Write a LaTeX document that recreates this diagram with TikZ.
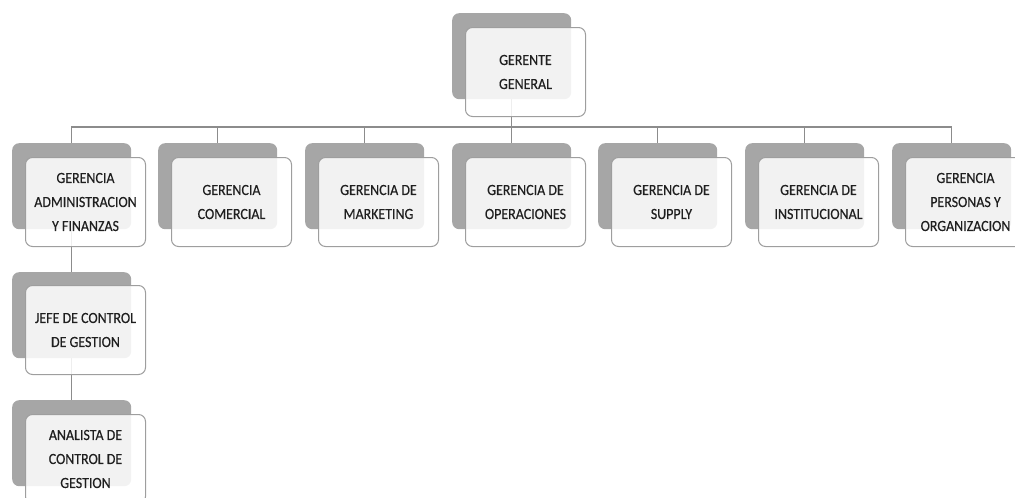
\documentclass[tikz,border=0pt]{standalone}
\usepackage{fontspec}
\setmainfont{Carlito}
\newfontfamily\boxfont[FakeStretch=0.9,FakeBold=0.35]{Carlito}
\usetikzlibrary{backgrounds}
\definecolor{backgray}{HTML}{A6A6A6}
\definecolor{bordergray}{HTML}{9E9E9E}
\definecolor{linegray}{HTML}{8C8C8C}
\tikzset{
  backbox/.style={rectangle, rounded corners=7pt, fill=backgray, minimum width=119pt, minimum height=86pt, anchor=north west, inner sep=0pt},
  frontbox/.style={rectangle, rounded corners=7pt, draw=bordergray, line width=1pt, fill=white, fill opacity=0.86, text opacity=1, minimum width=120pt, minimum height=89pt, anchor=north west, inner sep=0pt, align=center, font=\boxfont\fontsize{15.5}{24}\selectfont, text=black!88},
  conn/.style={draw=linegray, line width=1.3pt}
}
\begin{document}
\begin{tikzpicture}[x=1pt,y=-1pt]
\useasboundingbox (0,0) rectangle (1015,498);
% top
\node[backbox] (gb) at (452,13) {};
\node[frontbox] (gf) at (465,27) {GERENTE\\GENERAL};
% level 2
\node[backbox] (b1) at (12,143) {};
\node[frontbox] (f1) at (25,157) {GERENCIA\\ADMINISTRACION\\Y FINANZAS};
\node[backbox] (b2) at (158,143) {};
\node[frontbox] (f2) at (171,157) {GERENCIA\\COMERCIAL};
\node[backbox] (b3) at (305,143) {};
\node[frontbox] (f3) at (318,157) {GERENCIA DE\\MARKETING};
\node[backbox] (b4) at (452,143) {};
\node[frontbox] (f4) at (465,157) {GERENCIA DE\\OPERACIONES};
\node[backbox] (b5) at (598,143) {};
\node[frontbox] (f5) at (611,157) {GERENCIA DE\\SUPPLY};
\node[backbox] (b6) at (745,143) {};
\node[frontbox] (f6) at (758,157) {GERENCIA DE\\INSTITUCIONAL};
\node[backbox] (b7) at (892,143) {};
\node[frontbox] (f7) at (905,157) {GERENCIA\\PERSONAS Y\\ORGANIZACION};
% level 3
\node[backbox] (j) at (12,272) {};
\node[frontbox] (jf) at (25,285) {JEFE DE CONTROL\\DE GESTION};
\node[backbox] (a) at (12,400) {};
\node[frontbox] (af) at (25,414) {ANALISTA DE\\CONTROL DE\\GESTION};
\coordinate (bar) at (0,127);
\begin{pgfonlayer}{background}
\foreach \k in {b1,b2,b3,b4,b5,b6,b7}
  \draw[conn] (gb.south) -- (gb.south |- bar) -| (\k.north);
\draw[conn] (b1.south) -- (j.north);
\draw[conn] (j.south) -- (a.north);
\end{pgfonlayer}
\end{tikzpicture}
\end{document}
